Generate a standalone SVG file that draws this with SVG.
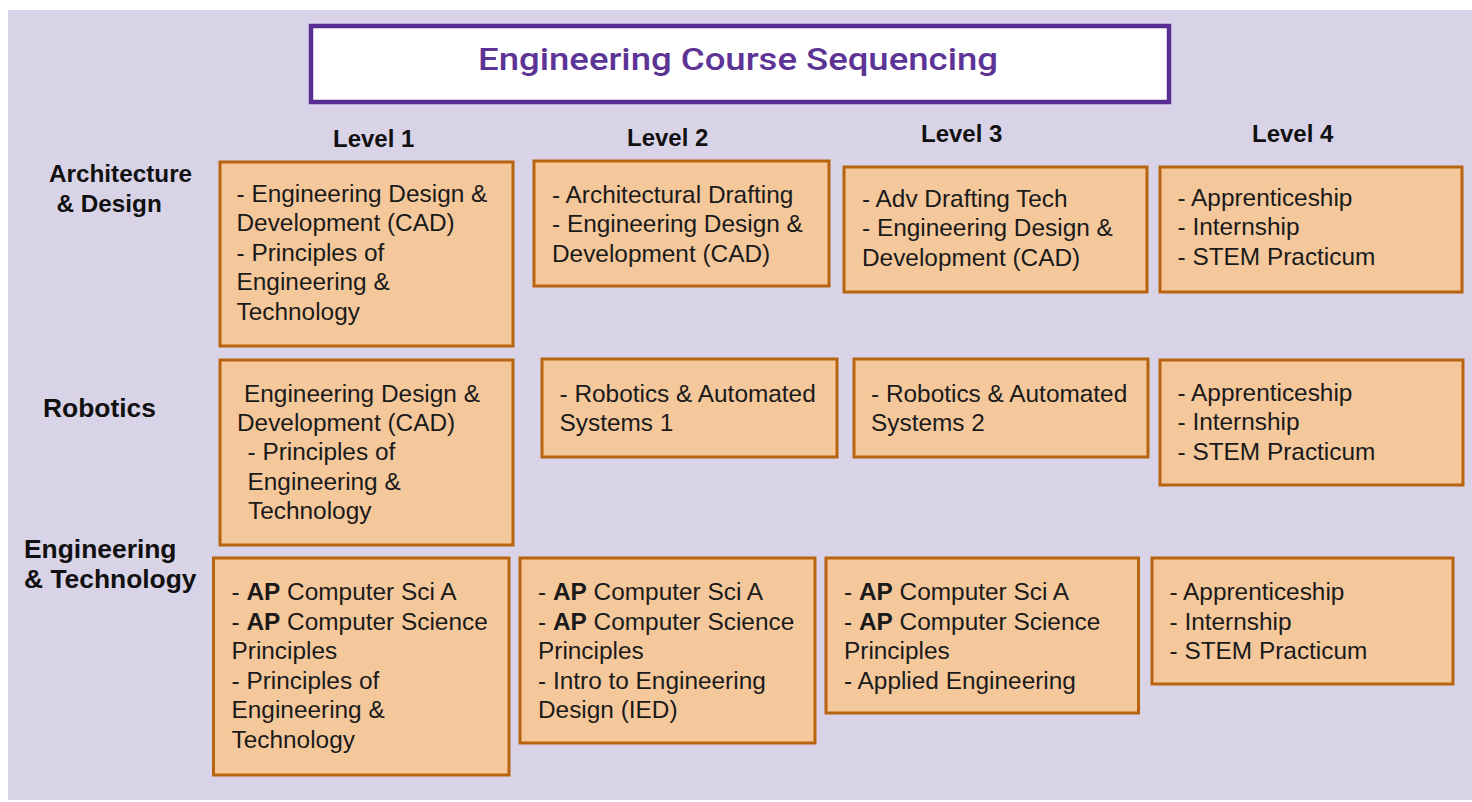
<svg xmlns="http://www.w3.org/2000/svg" width="1472" height="802" viewBox="0 0 1472 802">
<style>
.bg{fill:#d9d3e8}
.box{fill:#f5c89c;stroke:#b8640e;stroke-width:3}
.t{font-family:"Liberation Sans",Arial,sans-serif;font-size:24.4px;fill:#1a1a1a}
.b{font-weight:bold}
.lbl{font-family:"Liberation Sans",Arial,sans-serif;font-weight:bold;fill:#111}
.title{font-family:Roboto,"Liberation Sans",sans-serif;font-weight:500;font-size:32px;fill:#5c3496}
</style>
<rect width="1472" height="802" fill="#ffffff"/>
<rect class="bg" x="8" y="10" width="1464" height="790"/>

<g id="title">
<rect x="311" y="26" width="858" height="76" fill="#ffffff" stroke="#5a2d90" stroke-width="4.5"/>
<text class="title" x="478" y="69.5" textLength="520" lengthAdjust="spacingAndGlyphs">Engineering Course Sequencing</text>
</g>

<g id="levels">
<text class="lbl" x="333" y="146.5" font-size="24">Level 1</text>
<text class="lbl" x="627" y="145.5" font-size="24">Level 2</text>
<text class="lbl" x="921" y="141.5" font-size="24">Level 3</text>
<text class="lbl" x="1252" y="141.5" font-size="24">Level 4</text>
</g>

<g id="row-labels">
<text class="lbl" font-size="24.3"><tspan x="49" y="182.3">Architecture</tspan><tspan x="56.5" y="211.5">&amp; Design</tspan></text>
<text class="lbl" font-size="26.4" x="43" y="416.5">Robotics</text>
<text class="lbl" font-size="26.4"><tspan x="24" y="558.3">Engineering</tspan><tspan x="24" y="588">&amp; Technology</tspan></text>
</g>

<g id="arch-l1">
<rect class="box" x="220" y="162" width="293" height="184"/>
<text class="t"><tspan x="236.5" y="201.7">- Engineering Design &amp;</tspan><tspan x="236.5" y="231.2">Development (CAD)</tspan><tspan x="236.5" y="260.7">- Principles of</tspan><tspan x="236.5" y="290.2">Engineering &amp;</tspan><tspan x="236.5" y="319.7">Technology</tspan></text>
</g>
<g id="arch-l2">
<rect class="box" x="534" y="161" width="295" height="125"/>
<text class="t"><tspan x="552" y="202.7">- Architectural Drafting</tspan><tspan x="552" y="232.2">- Engineering Design &amp;</tspan><tspan x="552" y="261.7">Development (CAD)</tspan></text>
</g>
<g id="arch-l3">
<rect class="box" x="844" y="167" width="303" height="125"/>
<text class="t"><tspan x="862" y="206.5">- Adv Drafting Tech</tspan><tspan x="862" y="236">- Engineering Design &amp;</tspan><tspan x="862" y="265.5">Development (CAD)</tspan></text>
</g>
<g id="arch-l4">
<rect class="box" x="1160" y="167" width="302" height="125"/>
<text class="t"><tspan x="1177.5" y="205.7">- Apprenticeship</tspan><tspan x="1177.5" y="235.2">- Internship</tspan><tspan x="1177.5" y="264.7">- STEM Practicum</tspan></text>
</g>

<g id="rob-l1">
<rect class="box" x="220" y="360" width="293" height="185"/>
<text class="t"><tspan x="244" y="401.7">Engineering Design &amp;</tspan><tspan x="237" y="431">Development (CAD)</tspan><tspan x="247.5" y="460.3">- Principles of</tspan><tspan x="247.5" y="489.6">Engineering &amp;</tspan><tspan x="248" y="518.9">Technology</tspan></text>
</g>
<g id="rob-l2">
<rect class="box" x="542" y="359" width="295" height="98"/>
<text class="t"><tspan x="559.5" y="401.7">- Robotics &amp; Automated</tspan><tspan x="559.5" y="431">Systems 1</tspan></text>
</g>
<g id="rob-l3">
<rect class="box" x="854" y="359" width="294" height="98"/>
<text class="t"><tspan x="871" y="401.7">- Robotics &amp; Automated</tspan><tspan x="871" y="431">Systems 2</tspan></text>
</g>
<g id="rob-l4">
<rect class="box" x="1160" y="360" width="303" height="125"/>
<text class="t"><tspan x="1177.5" y="400.7">- Apprenticeship</tspan><tspan x="1177.5" y="430.2">- Internship</tspan><tspan x="1177.5" y="459.7">- STEM Practicum</tspan></text>
</g>

<g id="eng-l1">
<rect class="box" x="213.5" y="558" width="295.5" height="217"/>
<text class="t"><tspan x="231.5" y="600">- <tspan class="b">AP</tspan> Computer Sci A</tspan><tspan x="231.5" y="629.5">- <tspan class="b">AP</tspan> Computer Science</tspan><tspan x="231.5" y="659">Principles</tspan><tspan x="231.5" y="688.5">- Principles of</tspan><tspan x="231.5" y="718">Engineering &amp;</tspan><tspan x="231.5" y="747.5">Technology</tspan></text>
</g>
<g id="eng-l2">
<rect class="box" x="520" y="558" width="295" height="185"/>
<text class="t"><tspan x="538" y="600">- <tspan class="b">AP</tspan> Computer Sci A</tspan><tspan x="538" y="629.5">- <tspan class="b">AP</tspan> Computer Science</tspan><tspan x="538" y="659">Principles</tspan><tspan x="538" y="688.5">- Intro to Engineering</tspan><tspan x="538" y="718">Design (IED)</tspan></text>
</g>
<g id="eng-l3">
<rect class="box" x="826" y="558" width="312.5" height="155"/>
<text class="t"><tspan x="844" y="600">- <tspan class="b">AP</tspan> Computer Sci A</tspan><tspan x="844" y="629.5">- <tspan class="b">AP</tspan> Computer Science</tspan><tspan x="844" y="659">Principles</tspan><tspan x="844" y="688.5">- Applied Engineering</tspan></text>
</g>
<g id="eng-l4">
<rect class="box" x="1152" y="558" width="301" height="126"/>
<text class="t"><tspan x="1169.5" y="600">- Apprenticeship</tspan><tspan x="1169.5" y="629.5">- Internship</tspan><tspan x="1169.5" y="659">- STEM Practicum</tspan></text>
</g>
</svg>
